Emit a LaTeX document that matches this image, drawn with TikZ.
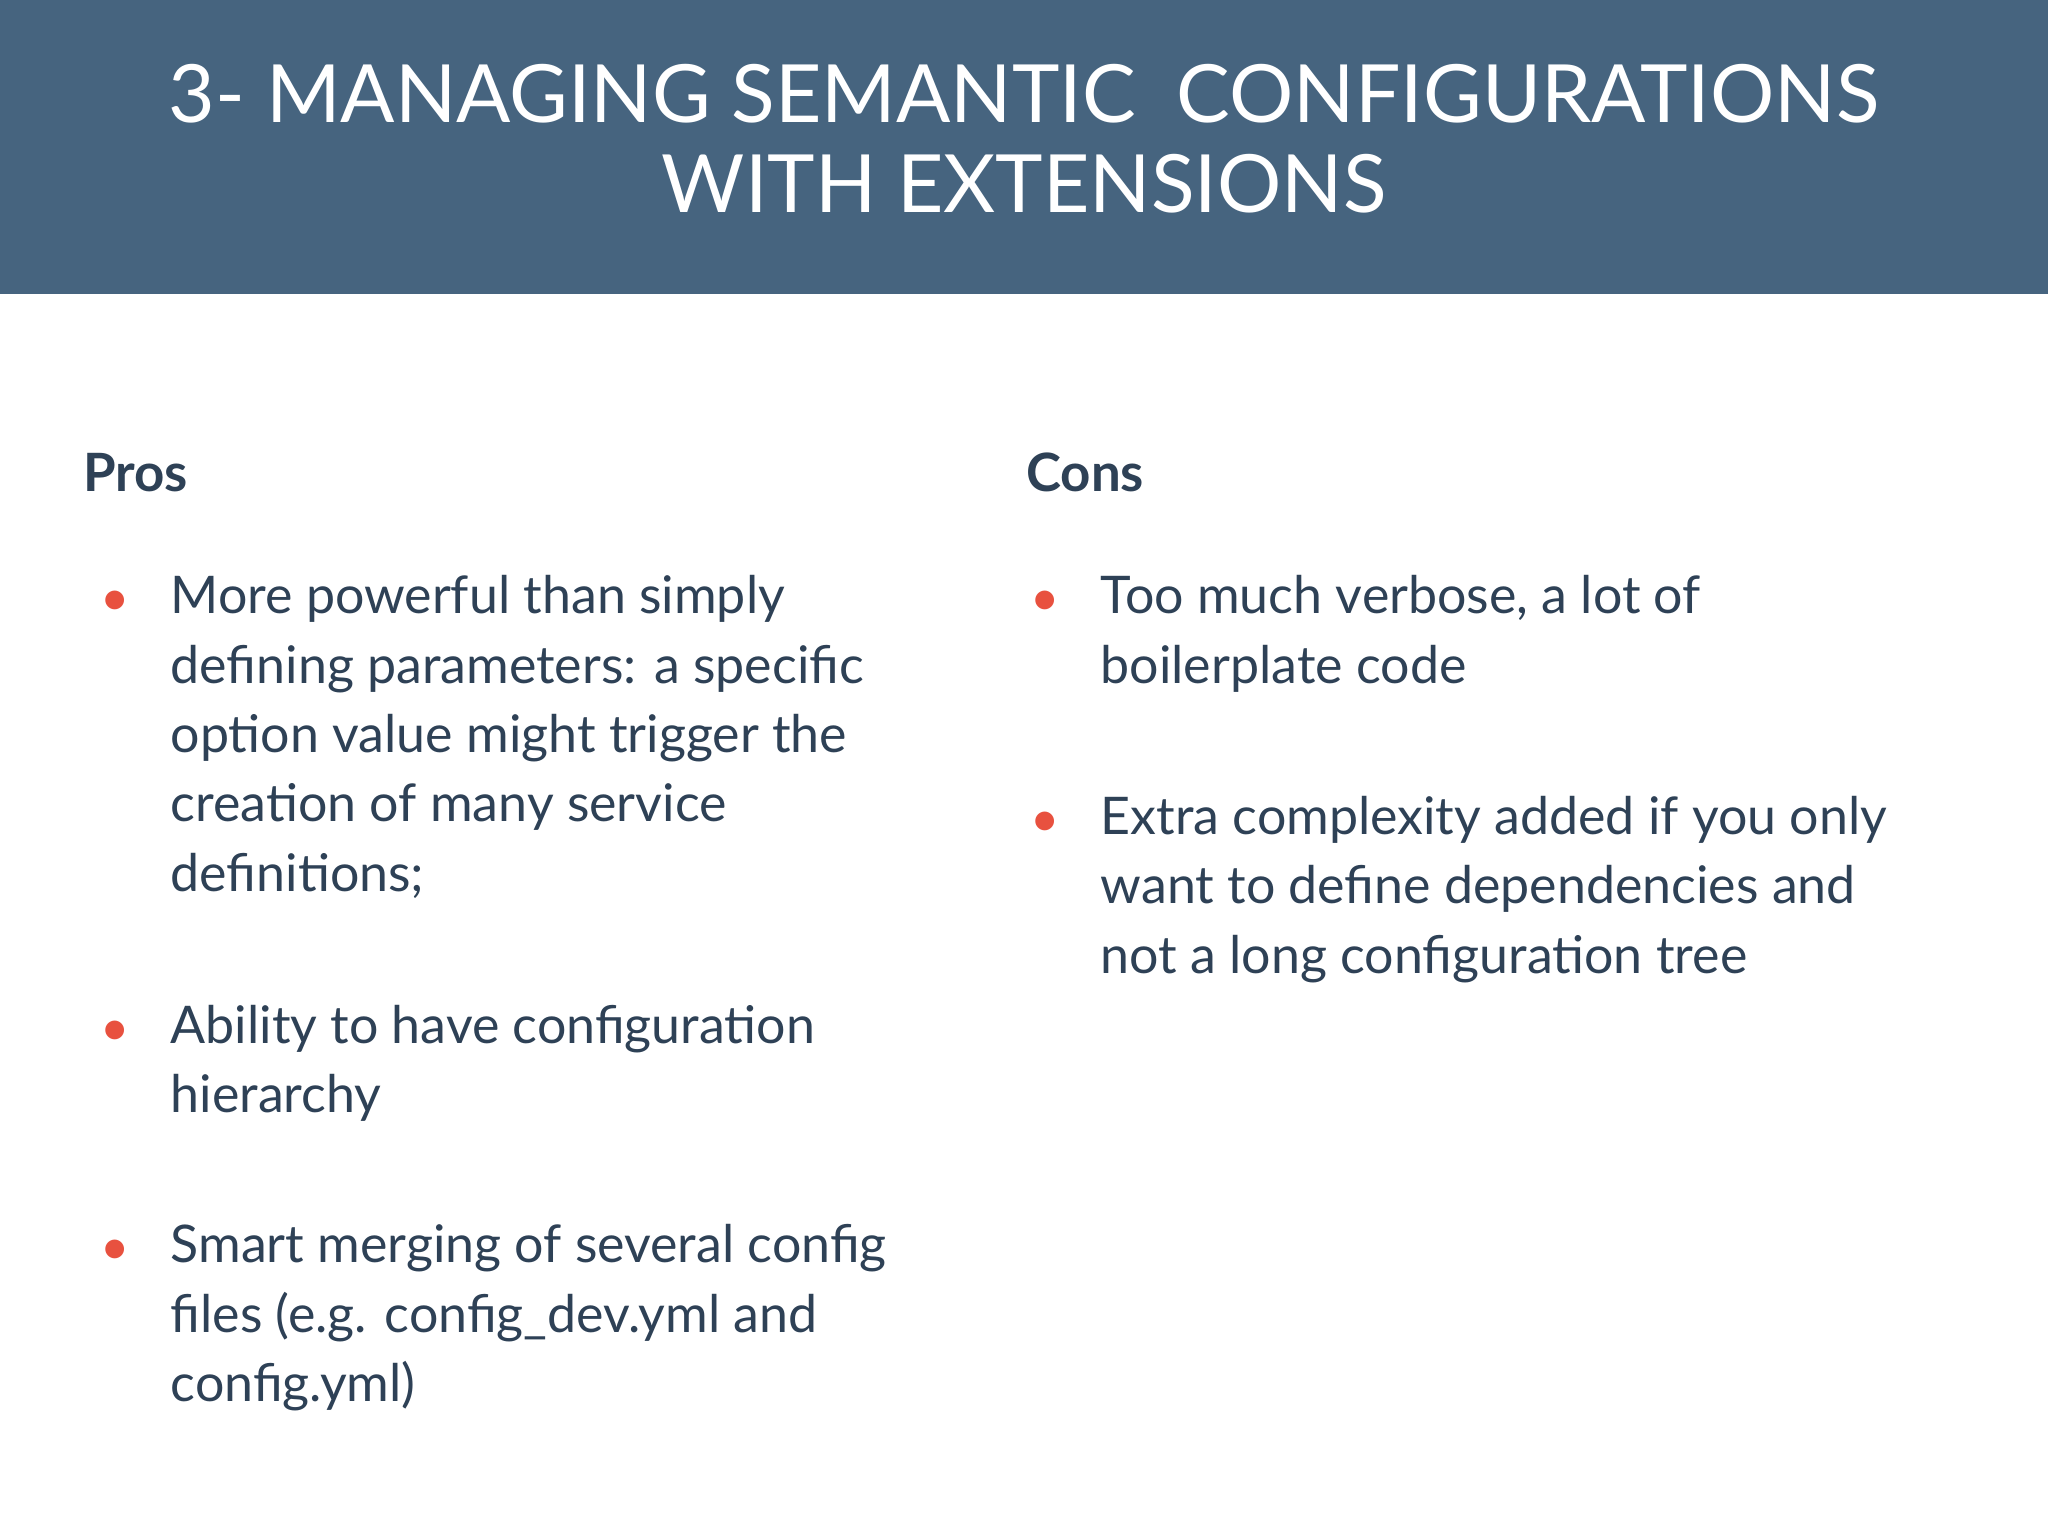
\documentclass[tikz,border=0pt]{standalone}
\usepackage{fontspec}
\setmainfont{Lato}
\definecolor{band}{HTML}{46647F}
\definecolor{ink}{HTML}{2E4156}
\definecolor{dot}{HTML}{E8513F}
\begin{document}
\begin{tikzpicture}[x=0.01cm,y=-0.01cm,
  title/.style={text=white,font=\fontsize{17.5pt}{21pt}\selectfont,anchor=center},
  head/.style={text=ink,font=\fontsize{11.5pt}{14pt}\selectfont\bfseries,anchor=west,inner sep=0},
  body/.style={text=ink,font=\fontsize{11.3pt}{15.1pt}\selectfont,anchor=north west,inner sep=0,align=left},
  bul/.style={text=dot,font=\fontsize{11pt}{14pt}\selectfont,anchor=center,inner sep=0}]
\useasboundingbox (0,0) rectangle (1568,1176);
\fill[white] (0,0) rectangle (1568,1176);
\fill[band] (0,0) rectangle (1568,225);
\node[title] (t1) at (784,72) {3- MANAGING SEMANTIC\ \ CONFIGURATIONS};
\node[title] (t2) at (784,141) {WITH EXTENSIONS};
\node[head] (pros) at (63,362) {Pros};
\node[head] (cons) at (785,362) {Cons};
\node[bul] (b1) at (88,462) {•};
\node[body] (p1) at (130,440) {More powerful than simply\\defining parameters: a specific\\option value might trigger the\\creation of many service\\definitions;};
\node[bul] (b2) at (88,791) {•};
\node[body] (p2) at (130,769) {Ability to have configuration\\hierarchy};
\node[bul] (b3) at (88,959) {•};
\node[body] (p3) at (130,937) {Smart merging of several config\\files (e.g. config\_dev.yml and\\config.yml)};
\node[bul] (c1b) at (800,462) {•};
\node[body] (c1) at (842,440) {Too much verbose, a lot of\\boilerplate code};
\node[bul] (c2b) at (800,631) {•};
\node[body] (c2) at (842,609) {Extra complexity added if you only\\want to define dependencies and\\not a long configuration tree};
\end{tikzpicture}
\end{document}
